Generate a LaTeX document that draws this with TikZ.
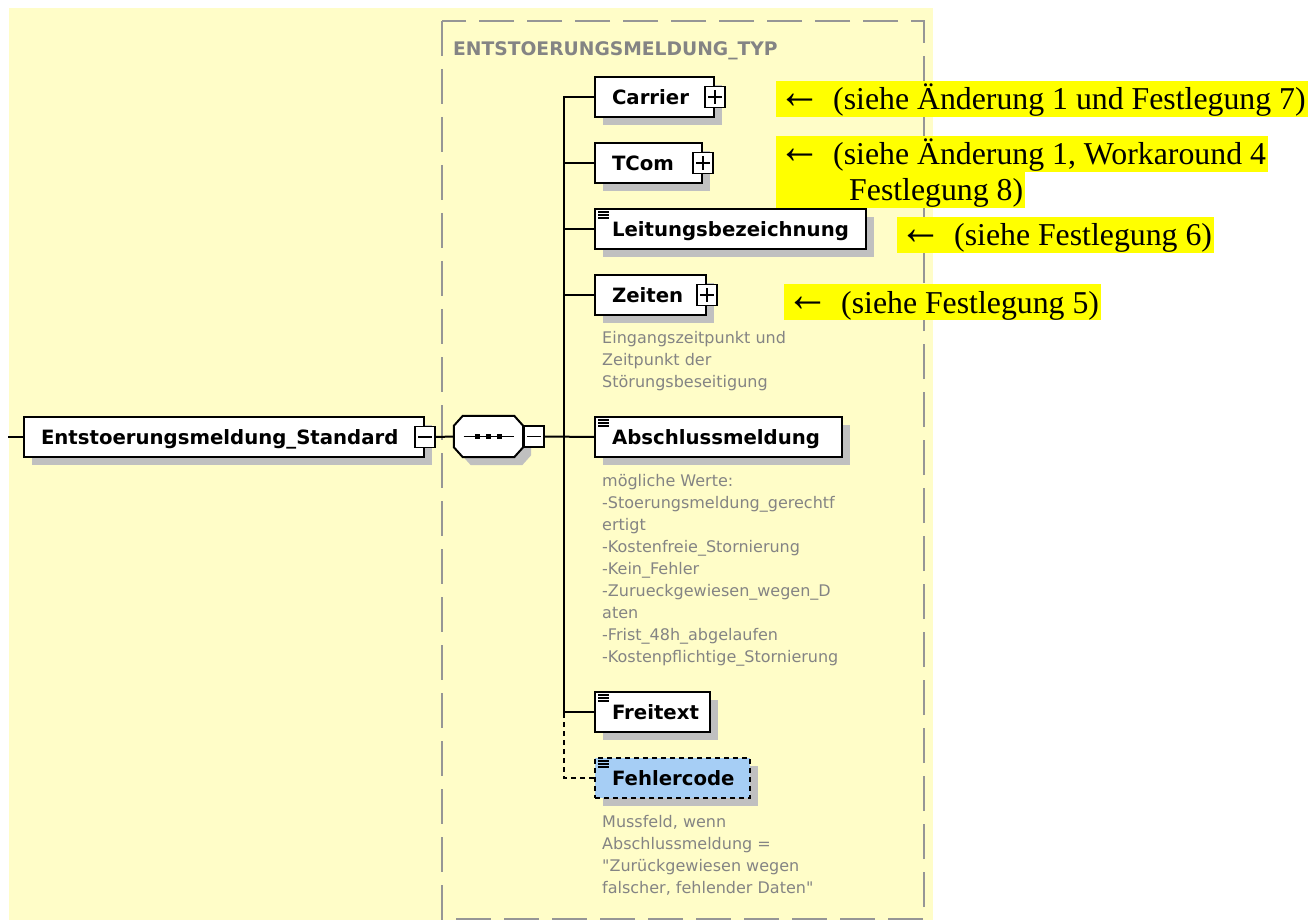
\documentclass[tikz,border=0pt]{standalone}
\usepackage{fontspec}
\setmainfont{Liberation Serif}
\newfontfamily\xsdfont{DejaVu Sans}
\usetikzlibrary{shadows,calc}

\definecolor{canvasyellow}{RGB}{255,253,200}
\definecolor{framegray}{RGB}{150,150,150}
\definecolor{shadowgray}{RGB}{192,192,192}
\definecolor{annogray}{RGB}{132,132,132}
\definecolor{optblue}{RGB}{166,206,245}
\definecolor{marker}{RGB}{255,255,0}

\tikzset{
  boxshadow/.style={drop shadow={shadow xshift=8pt, shadow yshift=-8pt, fill=shadowgray, opacity=1}},
  elem/.style={draw=black, line width=2pt, fill=white, anchor=west,
    minimum height=40pt, inner xsep=17pt, inner ysep=0pt, align=left,
    text height=14.4pt, text depth=0pt,
    font=\xsdfont\bfseries\fontsize{19.7}{23}\selectfont, boxshadow},
  optelem/.style={elem, fill=optblue, dash pattern=on 5pt off 4pt},
  expander/.style={draw=black, line width=1.6pt, fill=white,
    minimum width=20pt, minimum height=21pt, inner sep=0pt},
  plusbox/.style={expander, path picture={
    \draw[line width=1.5pt]
      ([xshift=-7pt]path picture bounding box.center) -- ([xshift=7pt]path picture bounding box.center)
      ([yshift=-7pt]path picture bounding box.center) -- ([yshift=7pt]path picture bounding box.center);}},
  minusbox/.style={expander, path picture={
    \draw[line width=1.5pt]
      ([xshift=-7pt]path picture bounding box.center) -- ([xshift=7pt]path picture bounding box.center);}},
  conn/.style={draw=black, line width=2pt},
  optconn/.style={conn, dash pattern=on 5pt off 4pt},
  anno/.style={anchor=base west, inner sep=0pt, text=annogray,
    font=\xsdfont\fontsize{16}{22}\selectfont},
  typetitle/.style={anchor=base west, inner sep=0pt, text=annogray,
    font=\xsdfont\bfseries\fontsize{18.7}{22}\selectfont},
  remark/.style={anchor=base west, fill=marker, inner xsep=2pt, inner ysep=0pt,
    text height=29pt, text depth=7pt, font=\fontsize{31.8}{36.6}\selectfont},
}

% leading arrow of a remark, followed by the tab gap
\newcommand{\remarkarrow}{\makebox[55pt][l]{\raisebox{1.5pt}{\scalebox{1.35}[1.6]{←}}}}

% three-line "simple content" mark in the upper left corner of an element
\newcommand{\contentmark}[1]{%
  \foreach \dy in {4,7,10}
    \draw[line width=1.2pt] ([xshift=4pt,yshift=-\dy pt]#1.north west) -- ++(11pt,0);}

\begin{document}
\begin{tikzpicture}[x=1pt,y=-1pt]
  \useasboundingbox (0,0) rectangle (1310,920);

  % canvas and complex type frame
  \fill[canvasyellow] (9,8) rectangle (933,920);
  \draw[framegray, line width=2pt, dash pattern=on 35pt off 13pt] (442,21) rectangle (924,919);
  \node[typetitle] (typename) at (453,56) {ENTSTOERUNGSMELDUNG\_TYP};

  % root element
  \coordinate (inlet) at (8,437);
  \node[elem, text width=366pt] (root) at (23,437) {Entstoerungsmeldung\_Standard};
  \node[minusbox] (rootx) at (root.east) {};

  % sequence compositor
  \node[minimum width=69pt, minimum height=41pt, inner sep=0pt] (seq) at (488.5,436.5) {};
  \path[draw=black, line width=2pt, fill=white, boxshadow]
    ([xshift=9pt]seq.north west) -- ([xshift=-9pt]seq.north east)
    -- ([yshift=-10pt]seq.north east) -- ([yshift=10pt]seq.south east)
    -- ([xshift=-9pt]seq.south east) -- ([xshift=9pt]seq.south west)
    -- ([yshift=10pt]seq.south west) -- ([yshift=-10pt]seq.north west) -- cycle;
  \draw[line width=1.6pt] ([xshift=-25pt]seq.center) -- ([xshift=25pt]seq.center);
  \foreach \dx in {-11,0,11}
    \fill ([xshift=\dx pt]seq.center) +(-2.8pt,-2.8pt) rectangle +(2.8pt,2.8pt);
  \node[minusbox, anchor=west] (seqx) at (seq.east) {};

  % child elements
  \coordinate (trunk) at (564,437);
  \coordinate (lastjoin) at (564,712);

  \node[elem, text width=85pt] (carrier) at (594,97) {Carrier};
  \node[plusbox] (carrierx) at (carrier.east) {};

  \node[elem, text width=73pt] (tcom) at (594,163) {TCom};
  \node[plusbox] (tcomx) at (tcom.east) {};

  \node[elem, text width=237pt] (leitung) at (594,229) {Leitungsbezeichnung};
  \contentmark{leitung}

  \node[elem, text width=77pt] (zeiten) at (594,295) {Zeiten};
  \node[plusbox] (zeitenx) at (zeiten.east) {};
  \node[anno] (zeitendoc) at (602,343) {\begin{tabular}[t]{@{}l@{}}Eingangszeitpunkt und\\Zeitpunkt der\\Störungsbeseitigung\end{tabular}};

  \node[elem, text width=213pt] (abschluss) at (594,437) {Abschlussmeldung};
  \contentmark{abschluss}
  \node[anno] (abschlussdoc) at (602,486) {\begin{tabular}[t]{@{}l@{}}mögliche Werte:\\-Stoerungsmeldung\_gerechtf\\ertigt\\-Kostenfreie\_Stornierung\\-Kein\_Fehler\\-Zurueckgewiesen\_wegen\_D\\aten\\-Frist\_48h\_abgelaufen\\-Kostenpflichtige\_Stornierung\end{tabular}};

  \node[elem, text width=81pt] (freitext) at (594,712) {Freitext};
  \contentmark{freitext}

  \node[optelem, text width=121pt] (fehlercode) at (594,778) {Fehlercode};
  \contentmark{fehlercode}
  \node[anno] (fehlerdoc) at (602,827) {\begin{tabular}[t]{@{}l@{}}Mussfeld, wenn\\Abschlussmeldung =\\"Zurückgewiesen wegen\\falscher, fehlender Daten"\end{tabular}};

  % connectors
  \draw[conn] (inlet) -- (root.west);
  \draw[conn] (rootx.east) -- (seq.west);
  \draw[conn] (seqx.east) -- (abschluss.west);
  \foreach \n in {carrier,tcom,leitung,zeiten,freitext}
    \draw[conn] (\n.west) -| (trunk);
  \draw[optconn] (fehlercode.west) -| (lastjoin);

  % remarks
  \node[remark] (remark1) at (776,110) {\remarkarrow(siehe Änderung 1 und Festlegung 7)};
  \node[remark] (remark2a) at (776,165) {\remarkarrow(siehe Änderung 1, Workaround 4};
  \node[remark] (remark2b) at (776,201) {\hspace*{71pt}Festlegung 8)};
  \node[remark] (remark3) at (897,246) {\remarkarrow(siehe Festlegung 6)};
  \node[remark] (remark4) at (784,313) {\remarkarrow(siehe Festlegung 5)};
\end{tikzpicture}
\end{document}
